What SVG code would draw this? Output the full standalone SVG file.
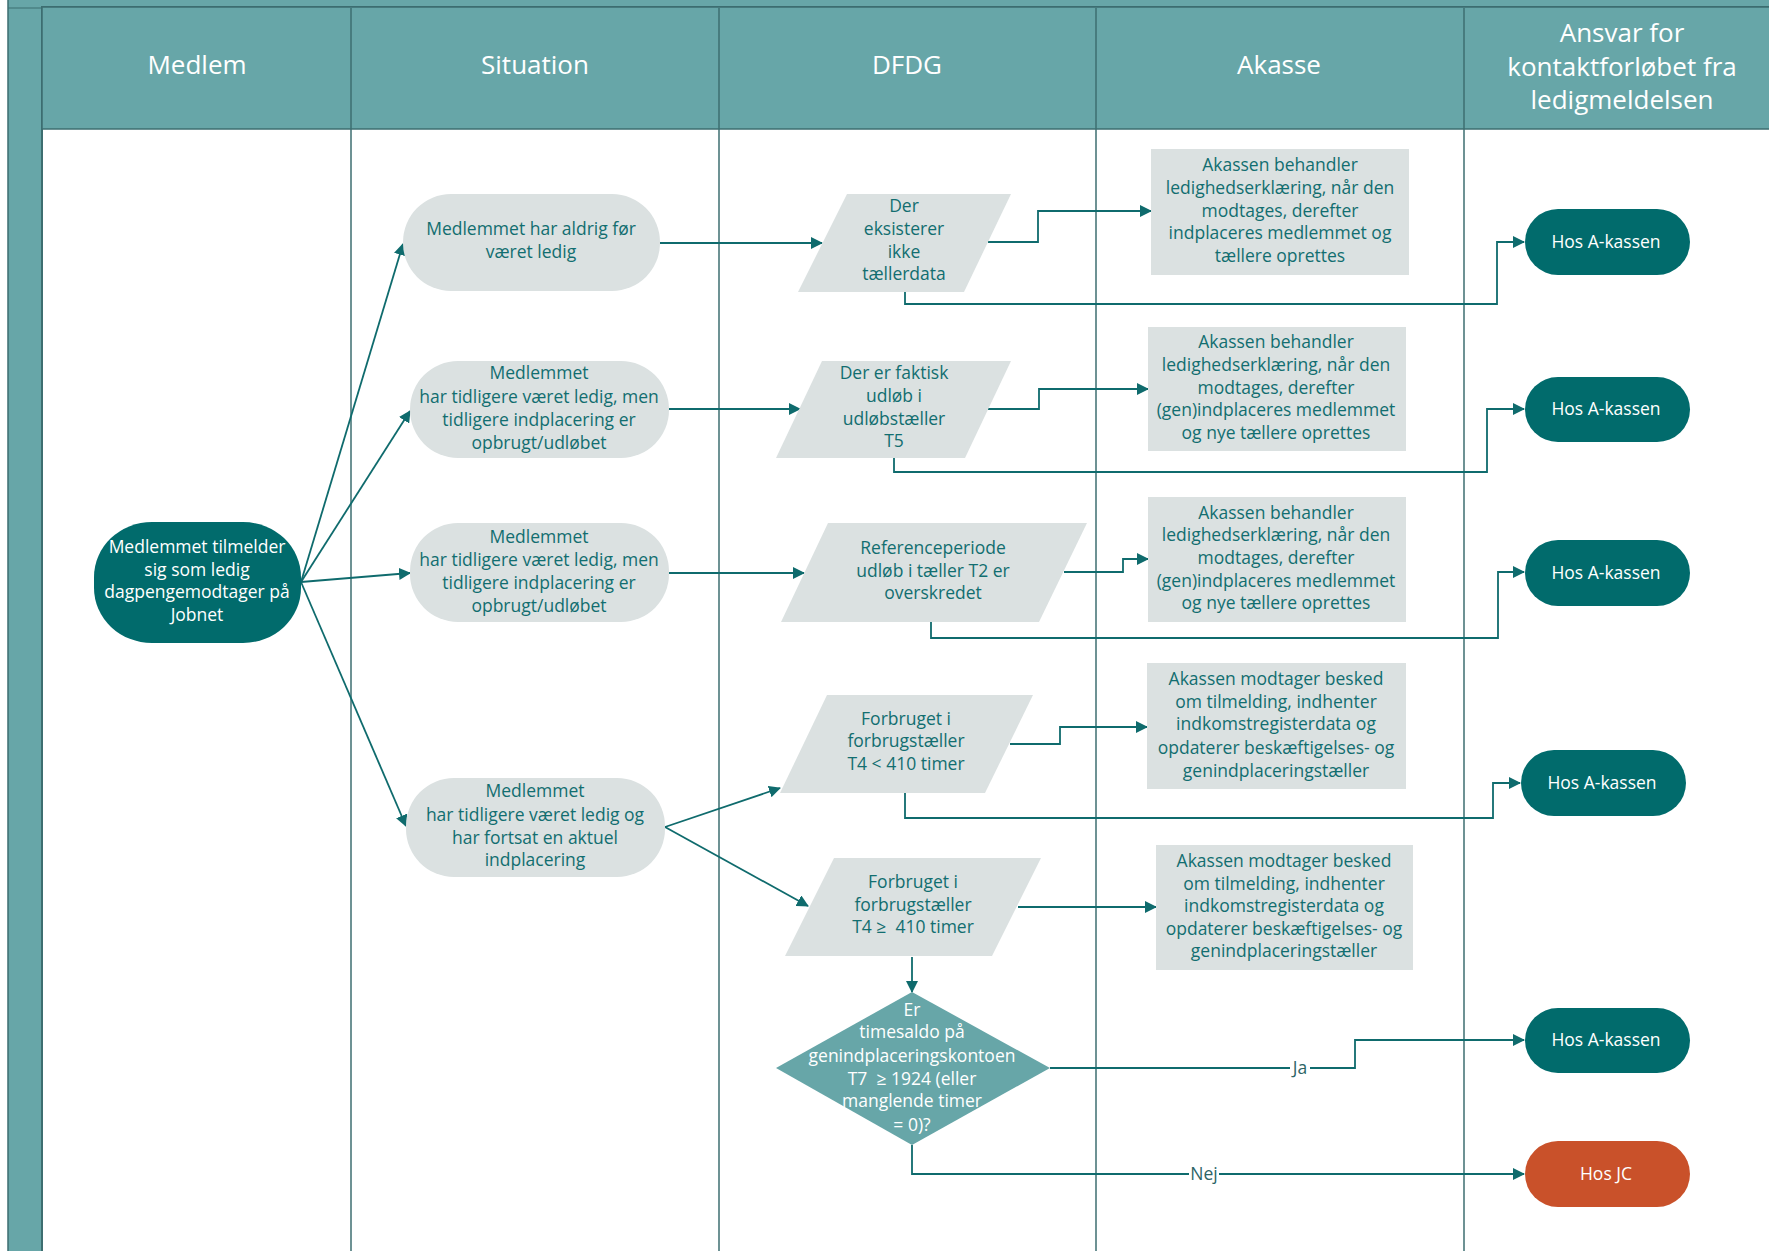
<svg xmlns="http://www.w3.org/2000/svg" width="1769" height="1251" viewBox="0 0 1769 1251">
<defs>
<marker id="ah" viewBox="0 0 12 12" refX="11" refY="6" markerWidth="12" markerHeight="12" markerUnits="userSpaceOnUse" orient="auto">
<path d="M0,0 L12,6 L0,12 z" fill="#0f6b6d"/>
</marker>
</defs>
<style>
.hdr{fill:#ffffff;font-family:"Open Sans","Noto Sans",sans-serif;font-size:26px;text-anchor:middle}
.t{fill:#126e70;font-family:"Open Sans","Noto Sans",sans-serif;font-size:17.5px;text-anchor:middle}
.w{fill:#ffffff;font-family:"Open Sans","Noto Sans",sans-serif;font-size:17.5px;text-anchor:middle}
.lbl{fill:#2d6466;font-family:"Open Sans","Noto Sans",sans-serif;font-size:17.5px;text-anchor:middle}
.grey{fill:#dbe1e1}
.dark{fill:#016b6c}
.orange{fill:#c9512a}
.mid{fill:#67a6a8}
.c{fill:none;stroke:#0f6b6d;stroke-width:1.8;marker-end:url(#ah)}
.lane{stroke:#3d6e70;stroke-width:1.5}
</style>
<g id="frame">
<rect x="8" y="-20" width="1800" height="1300" fill="#67a6a8" stroke="#3d6e70" stroke-width="1.5"/>
<line x1="8" y1="8" x2="43" y2="8" stroke="#3d6e70" stroke-width="1"/>
<rect x="42" y="7" width="1800" height="1300" fill="#ffffff" stroke="#3d6e70" stroke-width="2"/>
<rect x="42" y="7" width="1800" height="122" fill="#67a6a8" stroke="#3d6e70" stroke-width="1.5"/>
<line class="lane" x1="351" y1="8" x2="351" y2="1251"/>
<line class="lane" x1="719" y1="8" x2="719" y2="1251"/>
<line class="lane" x1="1096" y1="8" x2="1096" y2="1251"/>
<line class="lane" x1="1464" y1="8" x2="1464" y2="1251"/>
<text class="hdr" x="197" y="74">Medlem</text>
<text class="hdr" x="535" y="74">Situation</text>
<text class="hdr" x="907" y="74">DFDG</text>
<text class="hdr" x="1279" y="74">Akasse</text>
<text class="hdr"><tspan x="1622" y="42">Ansvar for</tspan><tspan x="1622" y="76">kontaktforløbet fra</tspan><tspan x="1622" y="109">ledigmeldelsen</tspan></text>
</g>
<g id="connectors">
<line class="c" x1="301" y1="582" x2="403" y2="244"/>
<line class="c" x1="301" y1="582" x2="410" y2="411"/>
<line class="c" x1="301" y1="582" x2="410" y2="573"/>
<line class="c" x1="301" y1="582" x2="406" y2="826"/>
<path class="c" d="M660,243 H822"/>
<path class="c" d="M669,409 H800"/>
<path class="c" d="M669,573 H804"/>
<path class="c" d="M665,827 L780,788"/>
<path class="c" d="M665,827 L808,906"/>
<path class="c" d="M988,242 H1038 V211 H1151"/>
<path class="c" d="M905,292 V304 H1497 V242 H1524"/>
<path class="c" d="M988,409 H1039 V389 H1148"/>
<path class="c" d="M894,458 V472 H1487 V409 H1524"/>
<path class="c" d="M1064,572 H1123 V559 H1148"/>
<path class="c" d="M931,622 V638 H1498 V572 H1524"/>
<path class="c" d="M1010,744 H1060 V727 H1147"/>
<path class="c" d="M905,793 V818 H1493 V783 H1520"/>
<path class="c" d="M1018,907 H1156"/>
<path class="c" d="M912,957 V992"/>
<path class="c" d="M1050,1068 H1355 V1040 H1524"/>
<path class="c" d="M912,1145 V1174 H1524"/>
<rect x="1290" y="1056" width="20" height="24" fill="#ffffff"/>
<text class="lbl" x="1300" y="1074">Ja</text>
<rect x="1189" y="1162" width="30" height="24" fill="#ffffff"/>
<text class="lbl" x="1204" y="1180">Nej</text>
</g>
<g id="n-medlem">
<rect class="dark" x="94" y="522" width="207" height="121" rx="58" ry="55"/>
<text class="w"><tspan x="197" y="553">Medlemmet tilmelder</tspan><tspan x="197" y="576">sig som ledig</tspan><tspan x="197" y="598">dagpengemodtager på</tspan><tspan x="197" y="621">Jobnet</tspan></text>
</g>
<g id="s1">
<rect class="grey" x="403" y="194" width="257" height="97" rx="48" ry="48"/>
<text class="t"><tspan x="531" y="235">Medlemmet har aldrig før</tspan><tspan x="531" y="258">været ledig</tspan></text>
</g>
<g id="s2">
<rect class="grey" x="410" y="361" width="259" height="97" rx="48" ry="48"/>
<text class="t"><tspan x="539" y="379">Medlemmet</tspan><tspan x="539" y="403">har tidligere været ledig, men</tspan><tspan x="539" y="426">tidligere indplacering er</tspan><tspan x="539" y="449">opbrugt/udløbet</tspan></text>
</g>
<g id="s3">
<rect class="grey" x="410" y="523" width="259" height="99" rx="48" ry="48"/>
<text class="t"><tspan x="539" y="543">Medlemmet</tspan><tspan x="539" y="566">har tidligere været ledig, men</tspan><tspan x="539" y="589">tidligere indplacering er</tspan><tspan x="539" y="612">opbrugt/udløbet</tspan></text>
</g>
<g id="s4">
<rect class="grey" x="406" y="778" width="259" height="99" rx="48" ry="48"/>
<text class="t"><tspan x="535" y="797">Medlemmet</tspan><tspan x="535" y="821">har tidligere været ledig og</tspan><tspan x="535" y="844">har fortsat en aktuel</tspan><tspan x="535" y="866">indplacering</tspan></text>
</g>
<g id="d1">
<polygon class="grey" points="847,194 1011,194 964,292 798,292"/>
<text class="t"><tspan x="904" y="212">Der</tspan><tspan x="904" y="235">eksisterer</tspan><tspan x="904" y="258">ikke</tspan><tspan x="904" y="280">tællerdata</tspan></text>
</g>
<g id="d2">
<polygon class="grey" points="822,361 1011,361 965,458 776,458"/>
<text class="t"><tspan x="894" y="379">Der er faktisk</tspan><tspan x="894" y="402">udløb i</tspan><tspan x="894" y="425">udløbstæller</tspan><tspan x="894" y="447">T5</tspan></text>
</g>
<g id="d3">
<polygon class="grey" points="828,523 1087,523 1039,622 781,622"/>
<text class="t"><tspan x="933" y="554">Referenceperiode</tspan><tspan x="933" y="577">udløb i tæller T2 er</tspan><tspan x="933" y="599">overskredet</tspan></text>
</g>
<g id="d4">
<polygon class="grey" points="827,695 1033,695 985,793 780,793"/>
<text class="t"><tspan x="906" y="725">Forbruget i</tspan><tspan x="906" y="747">forbrugstæller</tspan><tspan x="906" y="770">T4 &lt; 410 timer</tspan></text>
</g>
<g id="d5">
<polygon class="grey" points="834,858 1041,858 992,956 785,956"/>
<text class="t"><tspan x="913" y="888">Forbruget i</tspan><tspan x="913" y="911">forbrugstæller</tspan><tspan x="913" y="933">T4 ≥&#160; 410 timer</tspan></text>
</g>
<g id="d6">
<polygon class="mid" points="912,992 1050,1068 912,1145 776,1068"/>
<text class="w"><tspan x="912" y="1016">Er</tspan><tspan x="912" y="1038">timesaldo på</tspan><tspan x="912" y="1062">genindplaceringskontoen</tspan><tspan x="912" y="1085">T7 &#160;≥ 1924 (eller</tspan><tspan x="912" y="1107">manglende timer</tspan><tspan x="912" y="1131">= 0)?</tspan></text>
</g>
<g id="a1">
<rect class="grey" x="1151" y="149" width="258" height="126"/>
<text class="t"><tspan x="1280" y="171">Akassen behandler</tspan><tspan x="1280" y="194">ledighedserklæring, når den</tspan><tspan x="1280" y="217">modtages, derefter</tspan><tspan x="1280" y="239">indplaceres medlemmet og</tspan><tspan x="1280" y="262">tællere oprettes</tspan></text>
</g>
<g id="a2">
<rect class="grey" x="1148" y="327" width="258" height="124"/>
<text class="t"><tspan x="1276" y="348">Akassen behandler</tspan><tspan x="1276" y="371">ledighedserklæring, når den</tspan><tspan x="1276" y="394">modtages, derefter</tspan><tspan x="1276" y="416">(gen)indplaceres medlemmet</tspan><tspan x="1276" y="439">og nye tællere oprettes</tspan></text>
</g>
<g id="a3">
<rect class="grey" x="1148" y="497" width="258" height="125"/>
<text class="t"><tspan x="1276" y="519">Akassen behandler</tspan><tspan x="1276" y="541">ledighedserklæring, når den</tspan><tspan x="1276" y="564">modtages, derefter</tspan><tspan x="1276" y="587">(gen)indplaceres medlemmet</tspan><tspan x="1276" y="609">og nye tællere oprettes</tspan></text>
</g>
<g id="a4">
<rect class="grey" x="1147" y="663" width="259" height="126"/>
<text class="t"><tspan x="1276" y="685">Akassen modtager besked</tspan><tspan x="1276" y="708">om tilmelding, indhenter</tspan><tspan x="1276" y="730">indkomstregisterdata og</tspan><tspan x="1276" y="754">opdaterer beskæftigelses- og</tspan><tspan x="1276" y="777">genindplaceringstæller</tspan></text>
</g>
<g id="a5">
<rect class="grey" x="1156" y="845" width="257" height="125"/>
<text class="t"><tspan x="1284" y="867">Akassen modtager besked</tspan><tspan x="1284" y="890">om tilmelding, indhenter</tspan><tspan x="1284" y="912">indkomstregisterdata og</tspan><tspan x="1284" y="935">opdaterer beskæftigelses- og</tspan><tspan x="1284" y="957">genindplaceringstæller</tspan></text>
</g>
<g id="r1">
<rect class="dark" x="1525" y="209" width="165" height="66" rx="33" ry="33"/>
<text class="w" x="1606" y="248">Hos A-kassen</text>
</g>
<g id="r2">
<rect class="dark" x="1525" y="377" width="165" height="65" rx="33" ry="33"/>
<text class="w" x="1606" y="415">Hos A-kassen</text>
</g>
<g id="r3">
<rect class="dark" x="1525" y="540" width="165" height="66" rx="33" ry="33"/>
<text class="w" x="1606" y="579">Hos A-kassen</text>
</g>
<g id="r4">
<rect class="dark" x="1521" y="750" width="165" height="66" rx="33" ry="33"/>
<text class="w" x="1602" y="789">Hos A-kassen</text>
</g>
<g id="r5">
<rect class="dark" x="1525" y="1008" width="165" height="65" rx="33" ry="33"/>
<text class="w" x="1606" y="1046">Hos A-kassen</text>
</g>
<g id="r6">
<rect class="orange" x="1525" y="1141" width="165" height="66" rx="33" ry="33"/>
<text class="w" x="1606" y="1180">Hos JC</text>
</g>
</svg>
